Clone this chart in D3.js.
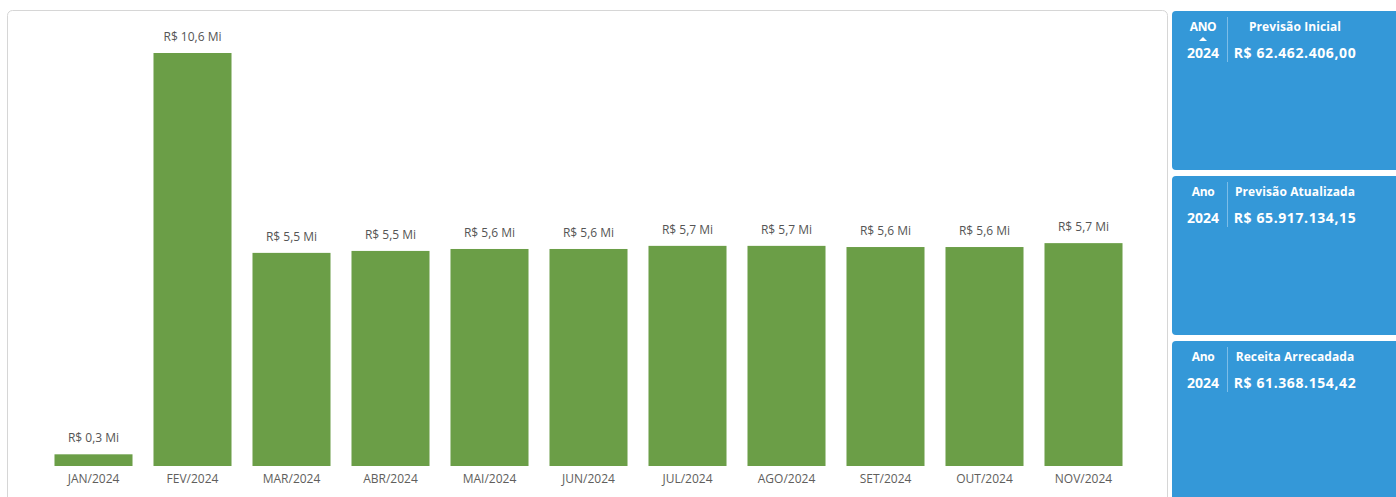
<!DOCTYPE html>
<html><head><meta charset="utf-8">
<script src="https://cdn.jsdelivr.net/npm/d3@7"></script>
<style>
html,body{margin:0;padding:0;background:#fff;overflow:hidden;}
svg{display:block;font-family:"Open Sans","Noto Sans",sans-serif;}
</style></head>
<body>
<svg id="c" width="1396" height="497"></svg>
<script>
const months = ["JAN/2024","FEV/2024","MAR/2024","ABR/2024","MAI/2024","JUN/2024","JUL/2024","AGO/2024","SET/2024","OUT/2024","NOV/2024"];
const values = [0.30, 10.60, 5.47, 5.52, 5.57, 5.57, 5.65, 5.65, 5.62, 5.62, 5.72];
const cardYearHeaders = ["ANO","Ano","Ano"];
const cardTitles = ["Previsão Inicial","Previsão Atualizada","Receita Arrecadada"];
const cardYears = ["2024","2024","2024"];
const cardValues = [62462406.00, 65917134.15, 61368154.42];

const svg = d3.select("#c");

// chart card
svg.append("rect").attr("x",7.5).attr("y",10.5).attr("width",1160).attr("height",520)
  .attr("rx",5).attr("fill","#fff").attr("stroke","#d6d6d6");

const baseY = 466;
const x = d3.scaleBand().domain(months).range([44,1133]).paddingInner(0.212).paddingOuter(0.106);
const y = d3.scaleLinear().domain([0,10.6]).range([baseY,53]);

const fmt = v => "R$ " + d3.format(".1f")(v).replace(".",",") + " Mi";

svg.append("g").selectAll("rect").data(values).join("rect")
  .attr("x",(d,i)=>x(months[i])).attr("width",x.bandwidth())
  .attr("y",d=>y(d)).attr("height",d=>baseY-y(d))
  .attr("fill","#6b9e47");

svg.append("g").selectAll("text").data(values).join("text")
  .attr("x",(d,i)=>x(months[i])+x.bandwidth()/2).attr("y",d=>y(d)-12)
  .attr("text-anchor","middle").attr("font-size",12).attr("fill","#555")
  .text(fmt);

const xAxis = svg.append("g").attr("transform",`translate(0,${baseY})`)
  .call(d3.axisBottom(x).tickSize(0).tickPadding(8));
xAxis.select(".domain").remove();
xAxis.selectAll("text").attr("font-size",12).attr("fill","#605e5c").attr("font-family","'Open Sans',sans-serif");

// cards
const cardTops = [11,176,341];
const cardH = 159;
const cg = svg.append("g").selectAll("g").data(cardTitles).join("g")
  .attr("transform",(d,i)=>`translate(1172,${cardTops[i]})`);
cg.append("rect").attr("width",240).attr("height",(d,i)=> i===2?200:cardH).attr("rx",4).attr("fill","#3498d8");
cg.append("line").attr("x1",55.5).attr("x2",55.5).attr("y1",6).attr("y2",51).attr("stroke","#7cbde8").attr("stroke-width",1);
cg.append("text").attr("x",31).attr("y",20).attr("text-anchor","middle").attr("font-size",12).attr("font-weight",700)
  .attr("fill","#fff").attr("letter-spacing",-0.4).text((d,i)=>cardYearHeaders[i]);
cg.append("text").attr("x",123).attr("y",20).attr("text-anchor","middle").attr("font-size",12).attr("font-weight",700)
  .attr("fill","#fff").attr("letter-spacing",0.1).text(d=>d);
cg.append("text").attr("x",31).attr("y",47).attr("text-anchor","middle").attr("font-size",14).attr("font-weight",700)
  .attr("fill","#fff").text((d,i)=>cardYears[i]);
const brl = v => "R$ " + d3.format(",.2f")(v).replace(/,/g,"#").replace(".",",").replace(/#/g,".");
cg.append("text").attr("x",123).attr("y",47).attr("text-anchor","middle").attr("font-size",14).attr("font-weight",700)
  .attr("fill","#fff").attr("letter-spacing",0.6).text((d,i)=>brl(cardValues[i]));
// sort indicator on first card
svg.append("path").attr("d","M1199,41 L1203,37 L1207,41 Z").attr("fill","#fff");
</script>
</body></html>
